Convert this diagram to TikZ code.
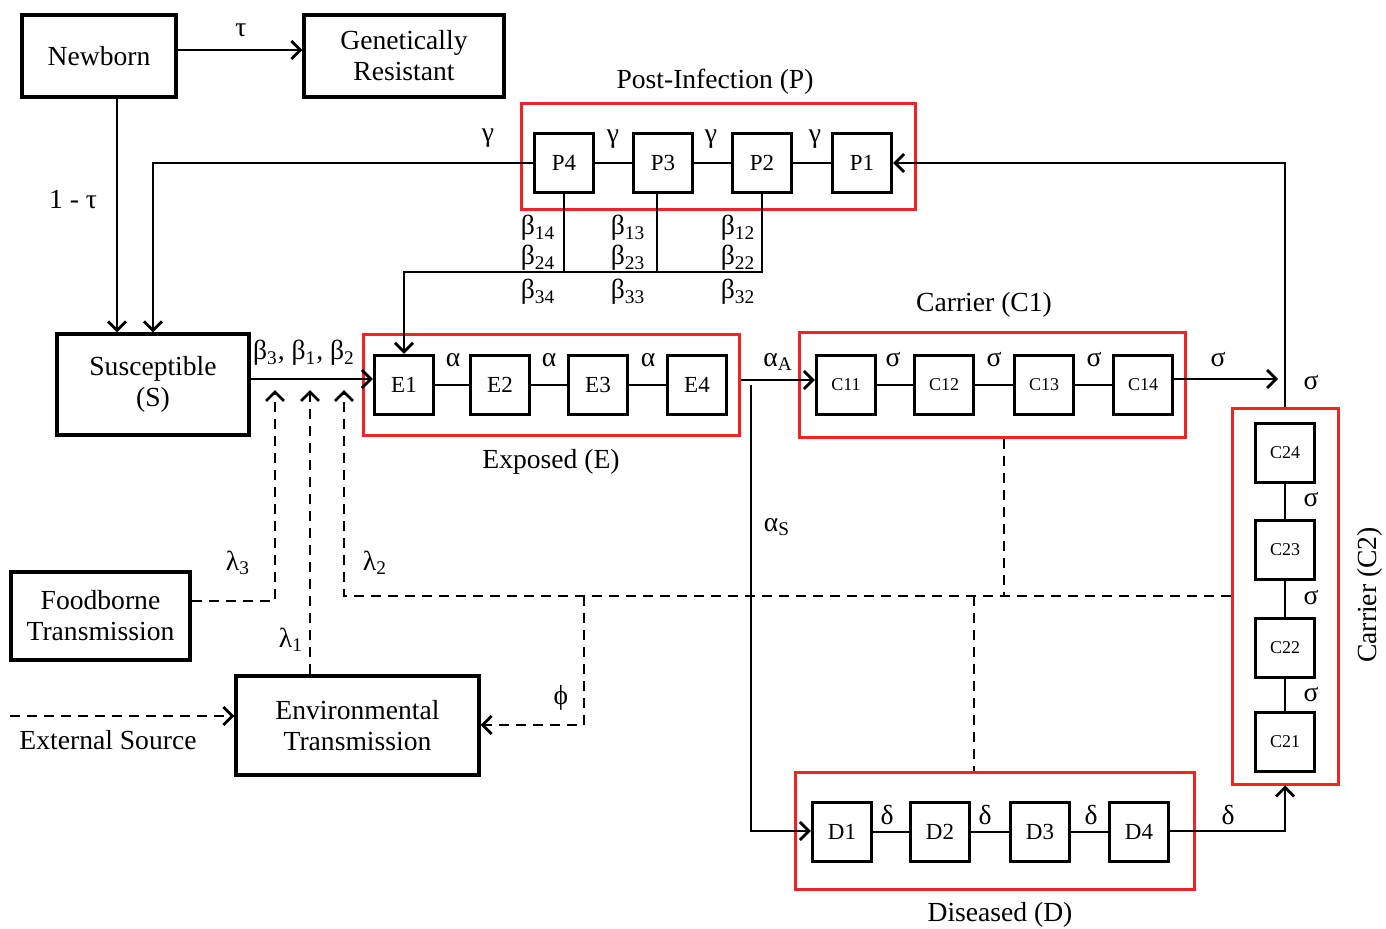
\documentclass[tikz,border=0pt]{standalone}
\usepackage{fontspec}
\setmainfont{Liberation Serif}
\usetikzlibrary{arrows.meta}
\definecolor{redc}{RGB}{240,36,36}
\begin{document}
\begin{tikzpicture}[x=0.5pt,y=-0.5pt,
  nodes={font=\fontsize{13.8}{15.5}\selectfont},
  bigbox/.style={draw, line width=1.6pt, align=center, inner sep=0pt},
  sbox/.style={draw, line width=1.6pt, minimum width=29.5pt, minimum height=29.5pt, inner sep=0pt, font=\fontsize{11.5}{13}\selectfont},
  cbox/.style={sbox, font=\fontsize{9}{10}\selectfont},
  grp/.style={draw=redc, line width=1.5pt, inner sep=0pt},
  conn/.style={line width=1.1pt},
  tipA/.tip={Straight Barb[length=4.5pt,width=9pt,line width=1.4pt]},
  arr/.style={conn, -tipA},
  dsh/.style={conn, dash pattern=on 5pt off 3.5pt},
  darr/.style={dsh, -tipA},
  lbl/.style={inner sep=0pt}]
\useasboundingbox (0,0) rectangle (1386,928);

% big boxes
\node[bigbox, minimum width=77pt, minimum height=41pt] (NB) at (99,56) {Newborn};
\node[bigbox, minimum width=100pt, minimum height=41pt] (GR) at (404,56) {Genetically\\Resistant};
\node[bigbox, minimum width=96pt, minimum height=50.5pt] (S) at (153,384.5) {Susceptible\\(S)};
\node[bigbox, minimum width=89.5pt, minimum height=44pt] (FB) at (100.5,616) {Foodborne\\Transmission};
\node[bigbox, minimum width=121.5pt, minimum height=49.5pt] (EN) at (357.5,725.5) {Environmental\\Transmission};

% group boxes
\node[grp, minimum width=197pt, minimum height=53pt] (PG) at (718,156) {};
\node[grp, minimum width=188pt, minimum height=50.5pt] (EG) at (551,384.5) {};
\node[grp, minimum width=193pt, minimum height=52.5pt] (CG1) at (992,384.5) {};
\node[grp, minimum width=53pt, minimum height=188pt] (CG2) at (1285,596) {};
\node[grp, minimum width=199.5pt, minimum height=58.5pt] (DG) at (994.5,830.5) {};

% small boxes
\node[sbox] (P4) at (564,163) {P4};
\node[sbox] (P3) at (663,163) {P3};
\node[sbox] (P2) at (762,163) {P2};
\node[sbox] (P1) at (862,163) {P1};
\node[sbox] (E1) at (404,385) {E1};
\node[sbox] (E2) at (500,385) {E2};
\node[sbox] (E3) at (598,385) {E3};
\node[sbox] (E4) at (697,385) {E4};
\node[cbox] (C11) at (846,385) {C11};
\node[cbox] (C12) at (944,385) {C12};
\node[cbox] (C13) at (1044,385) {C13};
\node[cbox] (C14) at (1143,385) {C14};
\node[cbox] (C24) at (1285,453) {C24};
\node[cbox] (C23) at (1285,550) {C23};
\node[cbox] (C22) at (1285,648) {C22};
\node[cbox] (C21) at (1285,742) {C21};
\node[sbox] (D1) at (842,832) {D1};
\node[sbox] (D2) at (940,832) {D2};
\node[sbox] (D3) at (1040,832) {D3};
\node[sbox] (D4) at (1139,832) {D4};

% chain links
\draw[conn] (P4) -- (P3) (P3) -- (P2) (P2) -- (P1);
\draw[conn] (E1) -- (E2) (E2) -- (E3) (E3) -- (E4);
\draw[conn] (C11) -- (C12) (C12) -- (C13) (C13) -- (C14);
\draw[conn] (C24) -- (C23) (C23) -- (C22) (C22) -- (C21);
\draw[conn] (D1) -- (D2) (D2) -- (D3) (D3) -- (D4);

% solid connectors
\draw[arr] (NB.east |- 0,50) -- (GR.west |- 0,50);
\draw[arr] (NB.south -| 117,0) -- (S.north -| 117,0);
\draw[arr] (P4.west) -- (153,163) -- (S.north -| 153,0);
\draw[arr] (CG2.north) -- (1285,163) -- (P1.east);
\draw[conn] (P4.south) -- (P4.south |- 0,272);
\draw[conn] (P3.south -| 657,0) -- (657,272);
\draw[arr] (P2.south) -- (P2.south |- 0,272) -- (E1.north |- 0,272) -- (E1.north);
\draw[arr] (S.east |- 0,379) -- (E1.west |- 0,379);
\draw[arr] (EG.east |- 0,380) -- (C11.west |- 0,380);
\coordinate (Cend) at (1278,379);
\draw[arr] (C14.east |- 0,379) -- (Cend);
\draw[arr] (751,385) -- (751,831) -- (D1.west |- 0,831);
\draw[arr] (D4.east |- 0,831) -- (1285,831) -- (CG2.south);

% dashed connectors
\draw[darr] (FB.east |- 0,601) -- (275,601) -- (275,390);
\draw[darr] (EN.north -| 310,0) -- (310,390);
\draw[darr] (CG2.west) -- (344,596) -- (344,390);
\draw[darr] (584,596) -- (584,725) -- (EN.east |- 0,725);
\draw[dsh] (CG1.south -| 1004,0) -- (1004,596);
\draw[dsh] (974,596) -- (DG.north -| 974,0);
\coordinate (ext) at (10,716);
\draw[darr] (ext) -- (EN.west |- 0,716);

% labels
\node[lbl] at (241,30) {τ};
\node[lbl] at (73,200) {1 - τ};
\node[lbl] at (488,138) {γ};
\node[lbl] at (613,139) {γ};
\node[lbl] at (711,139) {γ};
\node[lbl] at (815,139) {γ};
\node[lbl] at (715,82) {Post-Infection (P)};
\node[lbl] at (538,228) {β\textsubscript{14}};
\node[lbl] at (538,258) {β\textsubscript{24}};
\node[lbl] at (538,292) {β\textsubscript{34}};
\node[lbl] at (628,228) {β\textsubscript{13}};
\node[lbl] at (628,258) {β\textsubscript{23}};
\node[lbl] at (628,292) {β\textsubscript{33}};
\node[lbl] at (738,228) {β\textsubscript{12}};
\node[lbl] at (738,258) {β\textsubscript{22}};
\node[lbl] at (738,292) {β\textsubscript{32}};
\node[lbl] at (304,353) {β\textsubscript{3}, β\textsubscript{1}, β\textsubscript{2}};
\node[lbl] at (453,360) {α};
\node[lbl] at (549,360) {α};
\node[lbl] at (648,360) {α};
\node[lbl] at (551,462) {Exposed (E)};
\node[lbl] at (238,563) {λ\textsubscript{3}};
\node[lbl] at (375,563) {λ\textsubscript{2}};
\node[lbl] at (291,640) {λ\textsubscript{1}};
\node[lbl] at (561,698) {ϕ};
\node[lbl] at (108,740) {External Source};
\node[lbl] at (778,362) {α\textsubscript{A}};
\node[lbl] at (777,527) {α\textsubscript{S}};
\node[lbl] at (984,305) {Carrier (C1)};
\node[lbl] at (893,360) {σ};
\node[lbl] at (994,360) {σ};
\node[lbl] at (1094,360) {σ};
\node[lbl] at (1218,360) {σ};
\node[lbl] at (1311,383) {σ};
\node[lbl] at (1311,500) {σ};
\node[lbl] at (1311,598) {σ};
\node[lbl] at (1311,695) {σ};
\node[lbl, rotate=90] at (1370,595) {Carrier (C2)};
\node[lbl] at (887,815) {δ};
\node[lbl] at (985,815) {δ};
\node[lbl] at (1091,815) {δ};
\node[lbl] at (1228,815) {δ};
\node[lbl] at (1000,915) {Diseased (D)};
\end{tikzpicture}
\end{document}
